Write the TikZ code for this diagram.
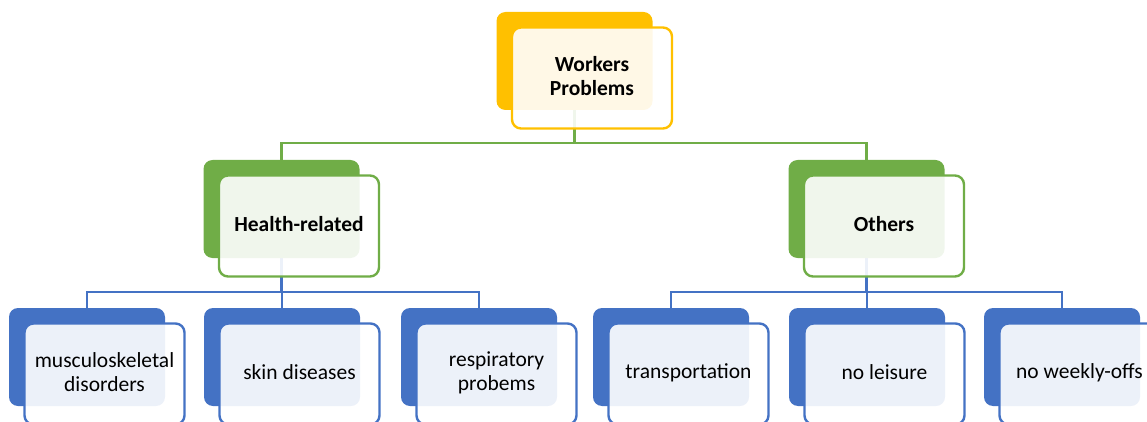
\documentclass[tikz,border=0pt]{standalone}
\usepackage{fontspec}
\setmainfont{Carlito}
\usetikzlibrary{backgrounds}
\definecolor{cgold}{HTML}{FFC000}
\definecolor{cgreen}{HTML}{70AD47}
\definecolor{cblue}{HTML}{4472C4}
\tikzset{
  darkbox/.style={rounded corners=9pt, minimum width=156pt, minimum height=98pt,
    inner sep=0pt, fill=#1},
  litebox/.style={rounded corners=9pt, minimum width=160pt, minimum height=101pt,
    draw=#1, line width=2.4pt, fill=white, fill opacity=0.9, inner sep=0pt},
  label/.style={align=center, inner sep=0pt, text=black,
    font=\fontsize{21.5}{24}\selectfont},
  conn/.style={draw=#1, line width=2.5pt},
}
\newcommand\elem[5]{%
  \node[darkbox=#4] (#1d) at (#2,#3) {};
  \node[litebox=#4] (#1) at ({#2+17.5},{#3+17}) {};
  \node[label] (#1t) at ([yshift=1.5pt]#1.center) {#5};
}
\begin{document}
\begin{tikzpicture}[x=1pt,y=-1pt]
  \path[use as bounding box, clip] (0,0) rectangle (1147,422);
  \elem{top}{574.5}{61}{cgold}{\textbf{Workers}\\\textbf{Problems}}
  \elem{hr}{281.5}{209}{cgreen}{\textbf{Health-related}}
  \elem{ot}{866.5}{209}{cgreen}{\textbf{Others}}
  \elem{c1}{87}{357}{cblue}{musculoskeletal\\disorders}
  \elem{c2}{282}{357}{cblue}{skin diseases}
  \elem{c3}{479}{357}{cblue}{respiratory\\probems}
  \elem{c4}{671}{357}{cblue}{transportation}
  \elem{c5}{867}{357}{cblue}{no leisure}
  \elem{c6}{1062}{357}{cblue}{no weekly-offs}
  \coordinate (gb) at (0,143);
  \coordinate (bb) at (0,292);
  \begin{pgfonlayer}{background}
    \draw[conn=cgreen] (topd.south) -- (topd.south |- gb);
    \draw[conn=cgreen] (hrd.north) -- (hrd.north |- gb) -- (otd.north |- gb) -- (otd.north);
    \draw[conn=cblue] (hrd.south) -- (hrd.south |- bb);
    \draw[conn=cblue] (c1d.north) -- (c1d.north |- bb) -- (c3d.north |- bb) -- (c3d.north);
    \draw[conn=cblue] (c2d.north) -- (c2d.north |- bb);
    \draw[conn=cblue] (otd.south) -- (otd.south |- bb);
    \draw[conn=cblue] (c4d.north) -- (c4d.north |- bb) -- (c6d.north |- bb) -- (c6d.north);
    \draw[conn=cblue] (c5d.north) -- (c5d.north |- bb);
  \end{pgfonlayer}
\end{tikzpicture}
\end{document}
